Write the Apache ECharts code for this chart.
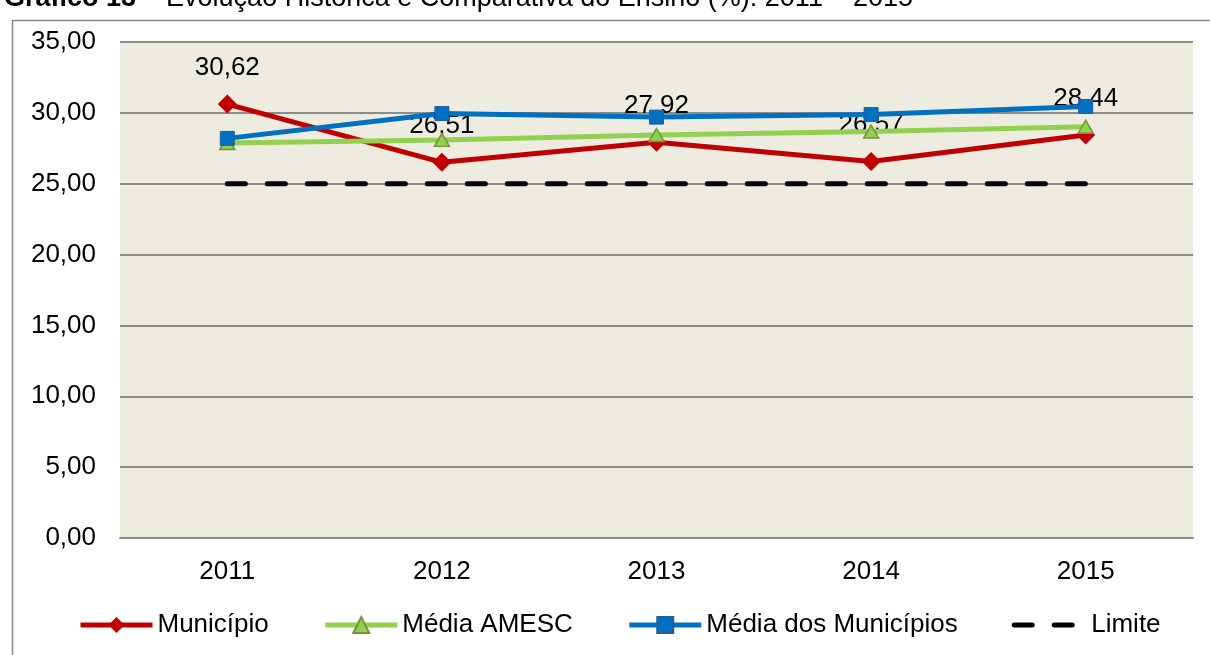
<!DOCTYPE html>
<html>
<head>
<meta charset="utf-8">
<script src="https://cdn.jsdelivr.net/npm/echarts@6/dist/echarts.min.js"></script>
<style>
  html, body { margin: 0; padding: 0; background: #fff; }
  #container { width: 1210px; height: 655px; }
</style>
</head>
<body>
<div id="container"></div>
<script>
var anos = ['2011', '2012', '2013', '2014', '2015'];
var municipio = [30.62, 26.51, 27.92, 26.57, 28.44];
var mediaAmesc = [27.87, 28.09, 28.44, 28.68, 29.02];
var mediaMunicipios = [28.2, 29.95, 29.7, 29.88, 30.45];
var limite = [25, 25, 25, 25, 25];

(function(){
    var dom = document.getElementById("container");
    var myChart = echarts.init(dom);
    var fonte = 'Liberation Sans, Arial, sans-serif';
    var tam = 26;
    var virgula = function (v) { return Number(v).toFixed(2).replace('.', ','); };

    var option = {
        animation: false,
        textStyle: { fontFamily: fonte, color: '#000' },
        title: {
            left: -1,
            top: -20,
            text: '{b|Gráfico 13} – Evolução Histórica e Comparativa do Ensino (%): 2011 – 2015',
            textStyle: {
                fontSize: 27,
                fontWeight: 'normal',
                fontFamily: fonte,
                color: '#000',
                rich: { b: { fontWeight: 'bold', fontSize: 27, fontFamily: fonte, color: '#000' } }
            }
        },
        graphic: [{
            type: 'rect',
            silent: true,
            shape: { x: 12.5, y: 20.5, width: 1300, height: 700 },
            style: { fill: 'none', stroke: '#8c8c8c', lineWidth: 1.5 }
        }],
        legend: {
            bottom: 12,
            left: 73,
            itemWidth: 72,
            itemHeight: 20,
            itemGap: 54,
            lineStyle: { width: 5 },
            textStyle: { fontSize: tam, fontFamily: fonte, color: '#000' },
            data: [
                'Município',
                'Média AMESC',
                'Média dos Municípios',
                { name: 'Limite', itemStyle: { color: 'rgba(0,0,0,0)', borderWidth: 0 } }
            ]
        },
        grid: {
            left: 120,
            right: 17,
            top: 42,
            bottom: 117,
            show: true,
            backgroundColor: '#EEECE1',
            borderWidth: 0
        },
        xAxis: {
            type: 'category',
            data: anos,
            boundaryGap: true,
            axisLine: { lineStyle: { color: '#8c8c8c', width: 2 } },
            axisTick: { show: false },
            axisLabel: { fontSize: tam, color: '#000', margin: 21, fontFamily: fonte }
        },
        yAxis: {
            type: 'value',
            min: 0,
            max: 35,
            interval: 5,
            axisLine: { show: false },
            axisTick: { show: false },
            axisLabel: { fontSize: tam, color: '#000', margin: 24, fontFamily: fonte, formatter: virgula },
            splitLine: { lineStyle: { color: '#8c8c8c', width: 2 } }
        },
        series: [
            {
                name: 'Município',
                type: 'line',
                data: municipio,
                z: 3,
                symbol: 'diamond',
                symbolSize: 19,
                itemStyle: { color: '#C00000' },
                lineStyle: { color: '#C00000', width: 5 },
                label: {
                    show: true,
                    position: 'top',
                    distance: 14,
                    fontSize: tam,
                    color: '#000',
                    fontFamily: fonte,
                    formatter: function (p) { return virgula(p.value); }
                },
                labelLayout: { hideOverlap: false },
                emphasis: { disabled: true }
            },
            {
                name: 'Média AMESC',
                type: 'line',
                data: mediaAmesc,
                z: 4,
                symbol: 'triangle',
                symbolSize: [15, 13],
                itemStyle: { color: '#92D050', borderColor: '#77933C', borderWidth: 1.5 },
                lineStyle: { color: '#92D050', width: 5 },
                emphasis: { disabled: true }
            },
            {
                name: 'Média dos Municípios',
                type: 'line',
                data: mediaMunicipios,
                z: 5,
                symbol: 'rect',
                symbolSize: 14,
                itemStyle: { color: '#0070C0', borderColor: '#2a5a9a', borderWidth: 1 },
                lineStyle: { color: '#0070C0', width: 5 },
                emphasis: { disabled: true }
            },
            {
                name: 'Limite',
                type: 'line',
                data: limite,
                z: 2,
                symbol: 'none',
                itemStyle: { color: '#000' },
                lineStyle: { color: '#000', width: 5, type: [18, 22], cap: 'round' },
                emphasis: { disabled: true }
            }
        ]
    };
    if (option && typeof option === "object") {
        myChart.setOption(option, true);
    }
})();
</script>
</body>
</html>
